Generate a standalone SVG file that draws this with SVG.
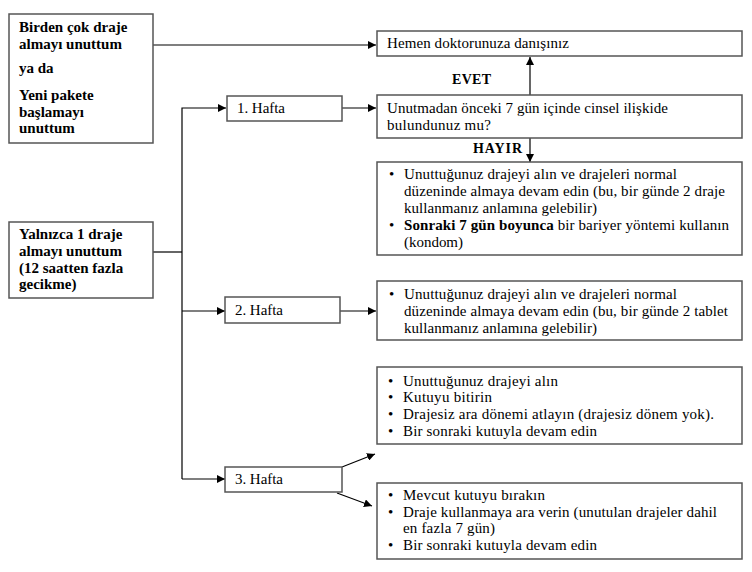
<svg xmlns="http://www.w3.org/2000/svg" width="752" height="572" viewBox="0 0 752 572">
<defs>
<marker id="ah" viewBox="0 0 10 10" refX="10" refY="5" markerWidth="8" markerHeight="8" markerUnits="userSpaceOnUse" orient="auto">
<path d="M0,0 L10,5 L0,10 z" fill="#000"/>
</marker>
<style>
.box{fill:#fff;stroke:#555;stroke-width:1.5}
.t{font-family:"Liberation Serif","Times New Roman",serif;font-size:15px;fill:#000}
.b{font-family:"Liberation Serif","Times New Roman",serif;font-size:14px;font-weight:bold;fill:#000}
.bl{font-family:"Liberation Serif","Times New Roman",serif;font-size:15px;font-weight:bold;fill:#000}
.bt{font-weight:bold}
.c{fill:none;stroke:#000;stroke-width:1.2}
.ca{fill:none;stroke:#000;stroke-width:1.2;marker-end:url(#ah)}
</style>
</defs>
<rect width="752" height="572" fill="#fff"/>
<g id="connectors">
<path class="ca" d="M153,45 H376"/>
<path class="ca" d="M530,95 V57"/>
<path class="ca" d="M530,138 V162"/>
<path class="ca" d="M342,108 H376"/>
<path class="c" d="M153,252 H182"/>
<path class="ca" d="M182,479 V108 H226"/>
<path class="ca" d="M182,311 H225"/>
<path class="ca" d="M340,311 H376"/>
<path class="ca" d="M182,479 H225"/>
<path class="ca" d="M342,467 L375,454"/>
<path class="ca" d="M337,493 L372,506"/>
</g>
<g id="nodeA">
<rect class="box" x="9" y="14" width="144" height="129"/>
<text class="bl" x="19" y="32">Birden çok draje</text>
<text class="bl" x="19" y="49">almayı unuttum</text>
<text class="bl" x="19" y="73">ya da</text>
<text class="bl" x="19" y="100">Yeni pakete</text>
<text class="bl" x="19" y="117">başlamayı</text>
<text class="bl" x="19" y="133">unuttum</text>
</g>
<g id="nodeB">
<rect class="box" x="9" y="222" width="144" height="76"/>
<text class="bl" x="19" y="239">Yalnızca 1 draje</text>
<text class="bl" x="19" y="256">almayı unuttum</text>
<text class="bl" x="19" y="273">(12 saatten fazla</text>
<text class="bl" x="19" y="289">gecikme)</text>
</g>
<g id="doctor">
<rect class="box" x="377" y="31" width="365" height="25"/>
<text class="t" x="387" y="48" textLength="182" lengthAdjust="spacing">Hemen doktorunuza danışınız</text>
</g>
<g id="evet"><text class="b" x="452" y="84" textLength="39" lengthAdjust="spacing">EVET</text></g>
<g id="question">
<rect class="box" x="377" y="95" width="365" height="43"/>
<text class="t" x="387" y="113" textLength="281" lengthAdjust="spacing">Unutmadan önceki 7 gün içinde cinsel ilişkide</text>
<text class="t" x="387" y="130" textLength="104" lengthAdjust="spacing">bulundunuz mu?</text>
</g>
<g id="hayir"><text class="b" x="473" y="153" textLength="49" lengthAdjust="spacing">HAYIR</text></g>
<g id="week1">
<rect class="box" x="227" y="96" width="115" height="25"/>
<text class="t" x="237" y="113" textLength="48" lengthAdjust="spacing">1. Hafta</text>
</g>
<g id="week2">
<rect class="box" x="225" y="297" width="115" height="26"/>
<text class="t" x="235" y="315" textLength="48" lengthAdjust="spacing">2. Hafta</text>
</g>
<g id="week3">
<rect class="box" x="225" y="467" width="117" height="25"/>
<text class="t" x="235" y="484" textLength="48" lengthAdjust="spacing">3. Hafta</text>
</g>
<g id="action1">
<rect class="box" x="377" y="162" width="365" height="93"/>
<text class="t" x="389" y="179">•</text>
<text class="t" x="404" y="179" textLength="273" lengthAdjust="spacing">Unuttuğunuz drajeyi alın ve drajeleri normal</text>
<text class="t" x="404" y="196" textLength="321" lengthAdjust="spacing">düzeninde almaya devam edin (bu, bir günde 2 draje</text>
<text class="t" x="404" y="213" textLength="193" lengthAdjust="spacing">kullanmanız anlamına gelebilir)</text>
<text class="t" x="389" y="230">•</text>
<text class="t" x="404" y="230" textLength="325" lengthAdjust="spacing"><tspan class="bt">Sonraki 7 gün boyunca</tspan> bir bariyer yöntemi kullanın</text>
<text class="t" x="404" y="247" textLength="59" lengthAdjust="spacing">(kondom)</text>
</g>
<g id="action2">
<rect class="box" x="377" y="281" width="365" height="59"/>
<text class="t" x="389" y="299">•</text>
<text class="t" x="404" y="299" textLength="273" lengthAdjust="spacing">Unuttuğunuz drajeyi alın ve drajeleri normal</text>
<text class="t" x="404" y="316" textLength="324" lengthAdjust="spacing">düzeninde almaya devam edin (bu, bir günde 2 tablet</text>
<text class="t" x="404" y="333" textLength="193" lengthAdjust="spacing">kullanmanız anlamına gelebilir)</text>
</g>
<g id="action3a">
<rect class="box" x="377" y="367" width="365" height="77"/>
<text class="t" x="388" y="386">•</text>
<text class="t" x="403" y="386" textLength="155" lengthAdjust="spacing">Unuttuğunuz drajeyi alın</text>
<text class="t" x="388" y="402">•</text>
<text class="t" x="403" y="402" textLength="89" lengthAdjust="spacing">Kutuyu bitirin</text>
<text class="t" x="388" y="419">•</text>
<text class="t" x="403" y="419" textLength="311" lengthAdjust="spacing">Drajesiz ara dönemi atlayın (drajesiz dönem yok).</text>
<text class="t" x="388" y="436">•</text>
<text class="t" x="403" y="436" textLength="194" lengthAdjust="spacing">Bir sonraki kutuyla devam edin</text>
</g>
<g id="action3b">
<rect class="box" x="377" y="483" width="365" height="76"/>
<text class="t" x="388" y="500">•</text>
<text class="t" x="403" y="500" textLength="142" lengthAdjust="spacing">Mevcut kutuyu bırakın</text>
<text class="t" x="388" y="517">•</text>
<text class="t" x="403" y="517" textLength="314" lengthAdjust="spacing">Draje kullanmaya ara verin (unutulan drajeler dahil</text>
<text class="t" x="403" y="533" textLength="92" lengthAdjust="spacing">en fazla 7 gün)</text>
<text class="t" x="388" y="550">•</text>
<text class="t" x="403" y="550" textLength="194" lengthAdjust="spacing">Bir sonraki kutuyla devam edin</text>
</g>
</svg>
